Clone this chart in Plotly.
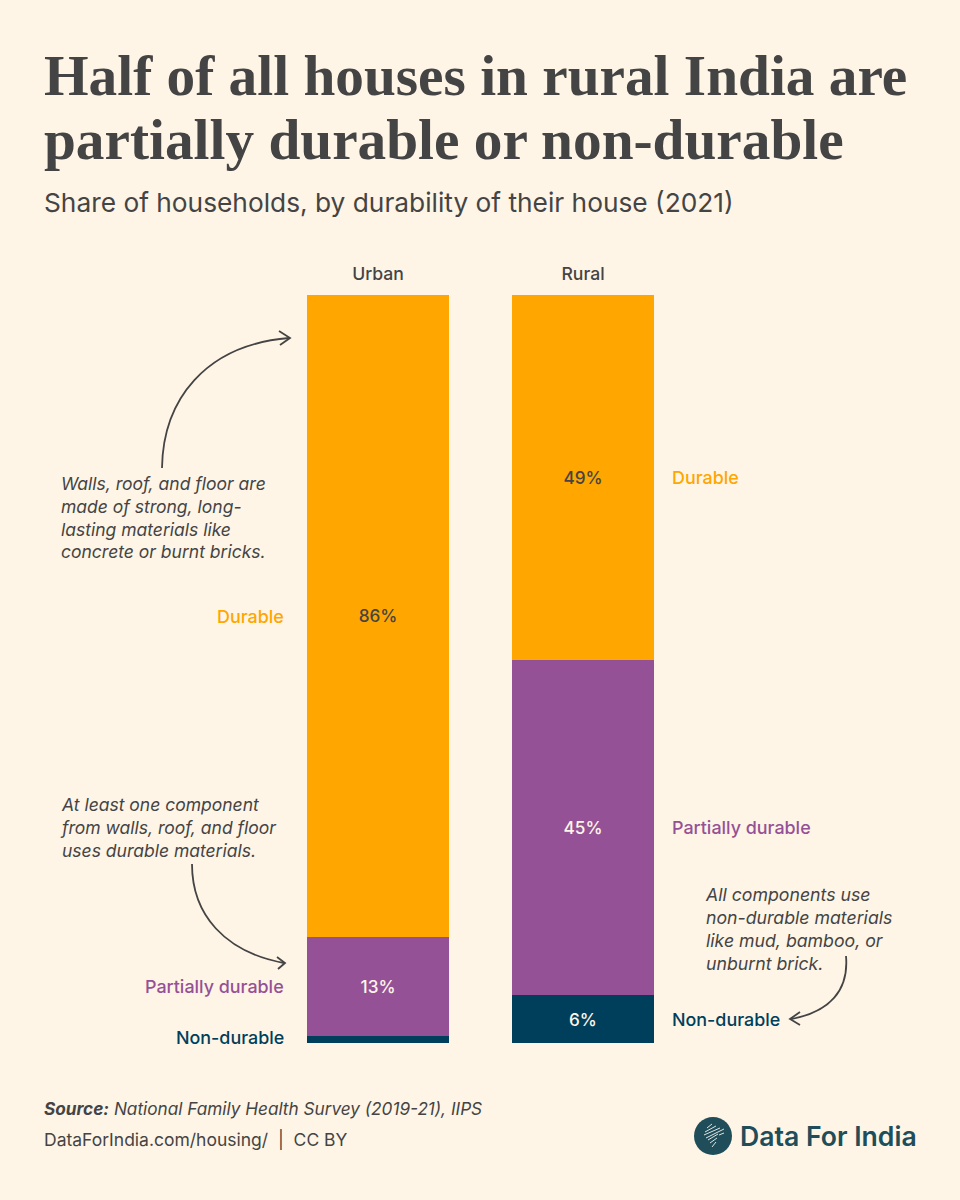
import plotly.graph_objects as go

W, H = 960, 1200
BG = "#FEF5E7"
INK = "#444444"
ORANGE = "#FFA600"
PURPLE = "#955196"
NAVY = "#003F5C"
TEAL = "#1F4D59"
SERIF = "Liberation Serif"
SANS = "Inter"

areas = ["Urban", "Rural"]
durable = [85.8, 48.8]
partial = [13.3, 44.8]
nondurable = [0.9, 6.4]
durable_txt = ["86%", "49%"]
partial_txt = ["13%", "45%"]
nondurable_txt = ["", "6%"]
LABELS = ["Durable", "Partially durable", "Non-durable"]


def px(x):
    return x / W


def py(y):
    return 1 - y / H


def path(*pts_cmds):
    out = []
    for c in pts_cmds:
        if isinstance(c, str):
            out.append(c)
        else:
            out.append(f"{px(c[0]):.5f},{py(c[1]):.5f}")
    return " ".join(out)


fig = go.Figure()
for name, vals, txt, col, tc in [
    (LABELS[2], nondurable, nondurable_txt, NAVY, "#FEF5E7"),
    (LABELS[1], partial, partial_txt, PURPLE, "#FEF5E7"),
    (LABELS[0], durable, durable_txt, ORANGE, INK),
]:
    fig.add_bar(
        x=areas, y=vals, name=name, text=txt, marker=dict(color=col, line_width=0),
        textposition="inside", insidetextanchor="middle", textangle=0,
        constraintext="none",
        textfont=dict(family=SANS, size=17.2, color=tc, weight=500),
        showlegend=False, hoverinfo="skip",
    )


def note(x, y, text, size=16, color=INK, anchor="left", weight=400, family=SANS, italic=False):
    fig.add_annotation(
        xref="paper", yref="paper", x=px(x), y=py(y), text=text, showarrow=False,
        xanchor=anchor, yanchor="middle", align=anchor,
        xshift=-2 if anchor == "left" else 2,
        font=dict(family=family, size=size, color=color, weight=weight,
                  style="italic" if italic else "normal"),
    )


def seg_label(i, y, text, color, side, dy=0):
    fig.add_annotation(
        xref="x", yref="y", x=areas[i], y=y, text=text, showarrow=False,
        xanchor="right" if side < 0 else "left", yanchor="middle",
        xshift=-92 if side < 0 else 87, yshift=dy,
        font=dict(family=SANS, size=17.9, color=color, weight=500),
    )


seg_label(0, nondurable[0] + partial[0] + durable[0] / 2, LABELS[0], ORANGE, -1, -1)
seg_label(0, nondurable[0] + partial[0] / 2, LABELS[1], PURPLE, -1)
seg_label(0, nondurable[0] / 2 + 0.2, LABELS[2], NAVY, -1, 1)
seg_label(1, nondurable[1] + partial[1] + durable[1] / 2, LABELS[0], ORANGE, 1)
seg_label(1, nondurable[1] + partial[1] / 2, LABELS[1], PURPLE, 1)
seg_label(1, nondurable[1] / 2, LABELS[2], NAVY, 1)

note(44, 75, "Half of all houses in rural India are", size=57.3, family=SERIF, weight=700)
note(44, 139, "partially durable or non-durable", size=57.3, family=SERIF, weight=700)
note(44, 202, "Share of households, by durability of their house (2021)", size=26.3)

note(61, 517, "Walls, roof, and floor are<br>made of strong, long-<br>lasting materials like<br>concrete or burnt bricks.", size=17.5, italic=True)
note(60, 827, "At least one component<br>from walls, roof, and floor<br>uses durable materials.", size=17.5, italic=True)
note(705, 929, "All components use<br>non-durable materials<br>like mud, bamboo, or<br>unburnt brick.", size=17.7, italic=True)

fig.add_annotation(xref="paper", yref="paper", x=px(44), y=py(1108), showarrow=False,
                   xanchor="left", yanchor="middle", xshift=-2,
                   text="<b><i>Source:</i></b> <i>National Family Health Survey (2019-21), IIPS</i>",
                   font=dict(family=SANS, size=17.2, color=INK))
note(44, 1139, "DataForIndia.com/housing/  |  CC BY", size=17.5)
note(740, 1136, "Data For India", size=26.6, color=TEAL, weight=600)

line = dict(color=INK, width=1.8)
curves = [
    path("M", (162, 468), "C", (163, 400), (205, 345), (289, 338)),
    path("M", (279, 331), "L", (290, 338), "L", (280, 345)),
    path("M", (192, 864), "C", (192, 915), (225, 952), (284, 963)),
    path("M", (277, 957), "L", (285, 963), "L", (278, 969)),
    path("M", (846, 956), "C", (849, 990), (830, 1012), (791, 1019)),
    path("M", (800, 1012), "L", (790, 1019), "L", (800, 1025)),
]
shapes = [dict(type="path", xref="paper", yref="paper", path=p, line=line, layer="above") for p in curves]

# logo
shapes.append(dict(type="circle", xref="paper", yref="paper",
                   x0=px(694), x1=px(732), y0=py(1155), y1=py(1117),
                   fillcolor=TEAL, line_width=0))
hatch = [((707, 1128), (712, 1124)), ((705, 1132), (716, 1126)), ((704, 1135), (720, 1128)),
         ((706, 1138), (724, 1129)), ((708, 1140), (718, 1134)), ((710, 1143), (717, 1138)),
         ((712, 1147), (716, 1142)), ((719, 1135), (724, 1133))]
for a, b in hatch:
    shapes.append(dict(type="path", xref="paper", yref="paper", path=path("M", a, "L", b),
                       line=dict(color="#DDE5E2", width=1)))

fig.update_layout(
    width=W, height=H, margin=dict(l=0, r=0, t=0, b=0), barmode="stack", bargap=0.307,
    paper_bgcolor=BG, plot_bgcolor=BG, shapes=shapes,
    xaxis=dict(domain=[px(275.5), px(685.5)], range=[-0.5, 1.5], side="top", type="category", showgrid=False,
               showline=False, zeroline=False, ticks="outside", ticklen=7, tickcolor="rgba(0,0,0,0)",
               tickfont=dict(family=SANS, size=17.6, color=INK, weight=500), fixedrange=True),
    yaxis=dict(domain=[py(1043), py(295)], range=[0, 100], visible=False, fixedrange=True),
)
fig.write_html("out.html", config={"displayModeBar": False},
               post_script="document.body.style.margin='0';")
